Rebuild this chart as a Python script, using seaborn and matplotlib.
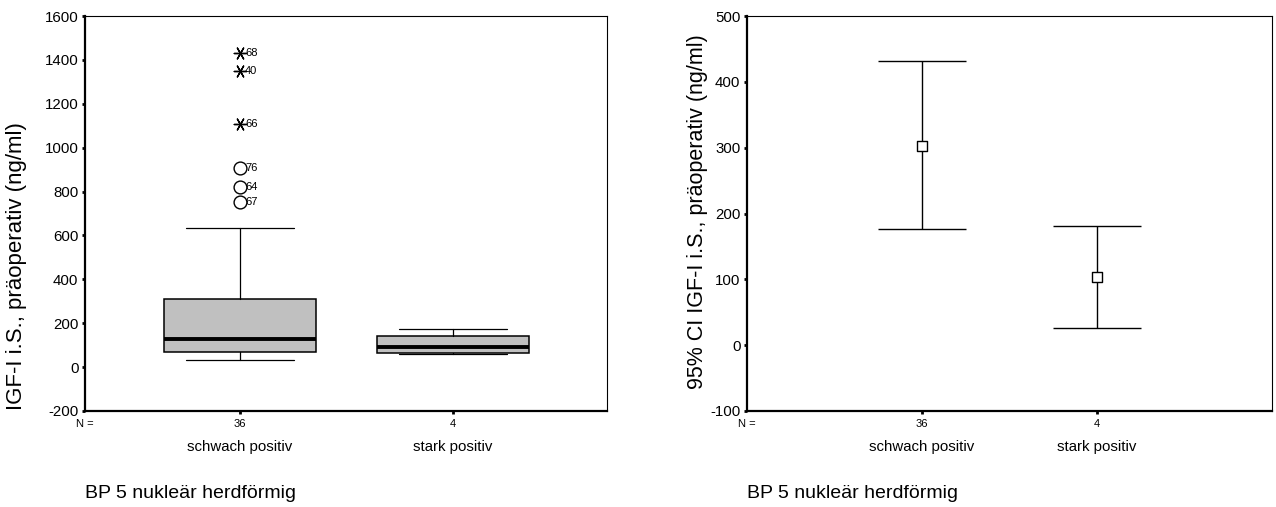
import numpy as np
import pandas as pd
import matplotlib
matplotlib.use("Agg")
import matplotlib.pyplot as plt
import matplotlib.transforms as mtransforms
import seaborn as sns

# ---- data -------------------------------------------------------------
categories = ["schwach positiv", "stark positiv"]
group_n = [36, 4]

# box-plot summary of IGF-I i.S. (ng/ml) per group
whisker_low = [32, 58]
q1 = [70, 63]
median = [129, 93]
q3 = [309, 140]
whisker_high = [634, 172]

# outliers (circles) and extreme values (asterisks) of the first group
outlier_values = [906, 822, 752]
outlier_cases = ["76", "64", "67"]
extreme_values = [1433, 1351, 1107]
extreme_cases = ["68", "40", "66"]

# mean and 95% confidence interval per group
ci_mean = [303, 104]
ci_low = [176, 26]
ci_high = [431, 181]

left_yticks = [1600, 1400, 1200, 1000, 800, 600, 400, 200, 0, -200]
right_yticks = [500, 400, 300, 200, 100, 0, -100]

group_title = "BP 5 nukleär herdförmig"
left_ylabel = "IGF-I i.S., präoperativ (ng/ml)"
right_ylabel = "95% CI IGF-I i.S., präoperativ (ng/ml)"

# ---- style ------------------------------------------------------------
sns.set_style("white")
plt.rcParams["font.family"] = ["Liberation Sans", "DejaVu Sans"]
plt.rcParams["text.color"] = "black"
plt.rcParams["axes.labelcolor"] = "black"
plt.rcParams["xtick.color"] = "black"
plt.rcParams["ytick.color"] = "black"

W, H = 1276, 507
fig = plt.figure(figsize=(W / 100, H / 100), dpi=100)


def px_axes(left, top, right, bottom):
    return fig.add_axes([left / W, 1 - bottom / H, (right - left) / W, (bottom - top) / H])


ax1 = px_axes(85, 16, 607, 411)
ax2 = px_axes(747, 16, 1272, 411)
positions = np.arange(len(categories))


def style_axes(ax, yticks, xlim):
    ax.set_xlim(*xlim)
    ax.set_ylim(min(yticks), max(yticks))
    ax.set_yticks(yticks)
    ax.set_yticklabels([str(t) for t in yticks], fontsize=10.8, color="black")
    ax.set_xticks(positions)
    ax.set_xticklabels([])
    ax.tick_params(axis="both", which="both", direction="out", length=2.2,
                   width=2.0, color="black", labelcolor="black", pad=2.5,
                   left=True, bottom=True)
    for side in ("left", "bottom"):
        ax.spines[side].set_linewidth(1.6)
        ax.spines[side].set_color("black")
    for side in ("top", "right"):
        ax.spines[side].set_linewidth(0.8)
        ax.spines[side].set_color("black")
    ax.set_xlabel("")
    ax.set_ylabel("")
    trans = mtransforms.blended_transform_factory(ax.transData, ax.transAxes)
    ax.text(0, -0.033, "N =", transform=ax.transAxes, ha="center", va="center",
            fontsize=8, color="black")
    for pos, n, cat in zip(positions, group_n, categories):
        ax.text(pos, -0.033, str(n), transform=trans, ha="center", va="center",
                fontsize=8, color="black")
        ax.text(pos, -0.090, cat, transform=trans, ha="center", va="center",
                fontsize=10.8, color="black")
    ax.text(0, -0.21, group_title, transform=ax.transAxes, ha="left", va="center",
            fontsize=14, color="black")


# ---- left panel: box plot --------------------------------------------
stats = [dict(med=median[i], q1=q1[i], q3=q3[i], whislo=whisker_low[i],
              whishi=whisker_high[i], fliers=[]) for i in range(len(categories))]
ax1.bxp(stats, positions=positions, widths=0.71, capwidths=0.51, showfliers=False,
        patch_artist=True,
        boxprops=dict(facecolor="#c0c0c0", edgecolor="black", linewidth=1.1),
        medianprops=dict(color="black", linewidth=2.8, solid_capstyle="butt"),
        whiskerprops=dict(color="black", linewidth=0.9),
        capprops=dict(color="black", linewidth=0.9))

out_df = pd.DataFrame({"x": [positions[0]] * len(outlier_values), "y": outlier_values})
ext_df = pd.DataFrame({"x": [positions[0]] * len(extreme_values), "y": extreme_values})

for val, case in zip(outlier_values, outlier_cases):
    ax1.annotate(case, (positions[0], val), xytext=(3.5, 0), textcoords="offset points",
                 ha="left", va="center", fontsize=8, color="black", zorder=3)
for val, case in zip(extreme_values, extreme_cases):
    ax1.annotate(case, (positions[0], val), xytext=(3.5, 0), textcoords="offset points",
                 ha="left", va="center", fontsize=8, color="black", zorder=3)

sns.scatterplot(data=out_df, x="x", y="y", ax=ax1, marker="o", s=85,
                facecolor="white", edgecolor="black", linewidth=1.0, zorder=4)
sns.scatterplot(data=ext_df, x="x", y="y", ax=ax1, marker=(6, 2, 90), s=80,
                color="black", edgecolor="black", linewidth=1.0, zorder=4)

style_axes(ax1, left_yticks, (-0.728, 1.723))

# ---- right panel: mean with 95% CI -----------------------------------
yerr = [np.subtract(ci_mean, ci_low), np.subtract(ci_high, ci_mean)]
ax2.errorbar(positions, ci_mean, yerr=yerr, fmt="none", ecolor="black",
             elinewidth=1.0, capsize=32, capthick=1.0, zorder=2)
sns.scatterplot(x=positions, y=ci_mean, ax=ax2, marker="s", s=42,
                facecolor="white", edgecolor="black", linewidth=1.0, zorder=3)

style_axes(ax2, right_yticks, (-1.0, 2.0))

# ---- axis titles -----------------------------------------------------
fig.text(17 / W, 1 - 266 / H, left_ylabel, rotation=90, ha="center", va="center",
         fontsize=16, color="black")
fig.text(697 / W, 1 - 212 / H, right_ylabel, rotation=90, ha="center", va="center",
         fontsize=15.5, color="black")

fig.savefig("out.png", dpi=100, facecolor="white")
